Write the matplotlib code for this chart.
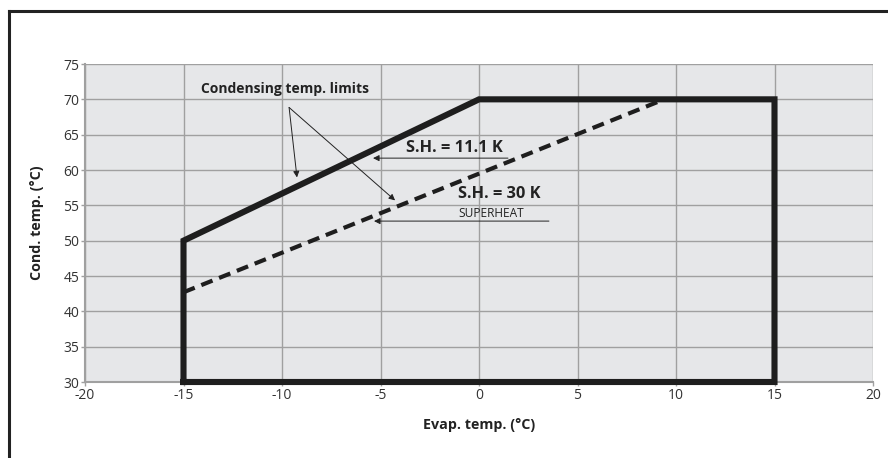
import matplotlib.pyplot as plt
from matplotlib.lines import Line2D

plt.rcParams['font.family'] = ['Open Sans', 'DejaVu Sans']
plt.rcParams['axes.unicode_minus'] = False

# envelope (S.H. = 11.1 K) - solid
env_x = [-15, -15, 0, 15, 15, -15]
env_y = [30, 50, 70, 70, 30, 30]

# S.H. = 30 K limit - dashed
sh30_x = [-15, 9.4]
sh30_y = [42.7, 70]

x_ticks = [-20, -15, -10, -5, 0, 5, 10, 15, 20]
y_ticks = [30, 35, 40, 45, 50, 55, 60, 65, 70, 75]

fig = plt.figure(figsize=(8.88, 4.58), dpi=100)
ax = fig.add_axes([85 / 888, 76 / 458, 788 / 888, 318 / 458])
ax.set_facecolor('#e6e7e9')

# outer frame (only top and left visible)
fig.add_artist(Line2D([9 / 888, 1], [1 - 11 / 458, 1 - 11 / 458], color='#222222', lw=2.2, transform=fig.transFigure))
fig.add_artist(Line2D([9 / 888, 9 / 888], [0, 1 - 11 / 458], color='#222222', lw=2.2, transform=fig.transFigure))

ax.set_xlim(-20, 20)
ax.set_ylim(30, 75)
ax.set_xticks(x_ticks)
ax.set_yticks(y_ticks)
ax.grid(True, color='#a0a0a0', lw=1.0)
ax.set_axisbelow(True)
for s in ['top', 'right']:
    ax.spines[s].set_visible(False)
for s in ['left', 'bottom']:
    ax.spines[s].set_color('#a0a0a0')
    ax.spines[s].set_linewidth(1.5)
ax.tick_params(length=3, width=1, color='#a0a0a0', labelsize=10, labelcolor='#333333', pad=1)

ax.plot(env_x, env_y, color='#1e1e1e', lw=4.4, solid_joinstyle='miter', clip_on=False, zorder=5)
ax.plot(sh30_x, sh30_y, color='#1e1e1e', lw=3, dashes=(2.9, 1.7), zorder=5)

ax.set_xlabel('Evap. temp. (°C)', fontsize=10.3, fontweight='bold', color='#222222', labelpad=11)
ax.set_ylabel('Cond. temp. (°C)', fontsize=10.3, fontweight='bold', color='#222222', labelpad=14)

# annotations
ax.text(-9.85, 71.5, 'Condensing temp. limits', fontsize=10, fontweight='bold', color='#222222',
        ha='center', va='center')
arr = dict(arrowstyle='-|>', color='#222222', lw=0.7, mutation_scale=9, shrinkA=0, shrinkB=0)
ax.annotate('', xy=(-9.24, 58.95), xytext=(-9.64, 68.85), arrowprops=arr)
ax.annotate('', xy=(-4.26, 55.7), xytext=(-9.64, 68.85), arrowprops=arr)

ax.text(-3.7, 63.1, 'S.H. = 11.1 K', fontsize=11.8, fontweight='bold', color='#222222', ha='left', va='center')
ax.annotate('', xy=(-5.38, 61.68), xytext=(1.47, 61.68), arrowprops=arr)

ax.text(-1.05, 56.6, 'S.H. = 30 K', fontsize=11.8, fontweight='bold', color='#222222', ha='left', va='center')
ax.text(-1.05, 53.9, 'SUPERHEAT', fontsize=8.6, color='#222222', ha='left', va='center')
ax.annotate('', xy=(-5.33, 52.77), xytext=(3.55, 52.77), arrowprops=arr)

fig.savefig('out.png', dpi=100)
